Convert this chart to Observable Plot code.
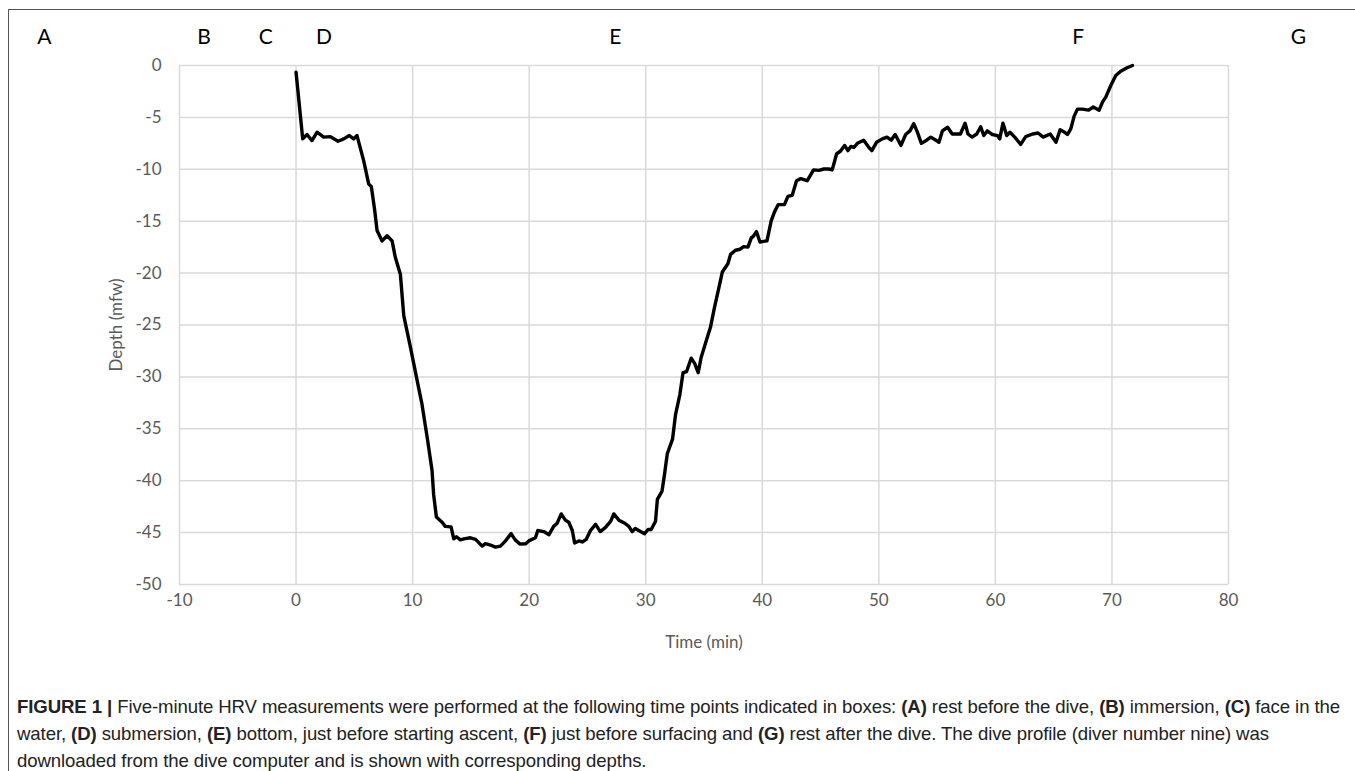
<!DOCTYPE html>
<html>
<head>
<meta charset="utf-8">
<script src="https://cdn.jsdelivr.net/npm/d3@7"></script>
<script src="https://cdn.jsdelivr.net/npm/@observablehq/plot@0.6"></script>
<style>
  html, body { margin: 0; padding: 0; background: #fff; }
  body { width: 1355px; height: 771px; position: relative; overflow: hidden; }
  #frame { position: absolute; left: 8px; top: 9px; width: 1400px; height: 800px;
           border-top: 1.5px solid #555; border-left: 1.5px solid #555; }
  #chart { position: absolute; left: 0; top: 0; }
  #caption { position: absolute; left: 17px; top: 693px; width: 1336px; white-space: nowrap;
             font-family: "Liberation Sans", Arial, sans-serif;
             font-size: 18.6px; line-height: 27px; color: #222; letter-spacing: -0.1px; }
  #caption b { font-weight: bold; }
</style>
</head>
<body>
<div id="frame"></div>
<div id="chart"></div>
<div id="caption"><b>FIGURE 1 |</b> Five-minute HRV measurements were performed at the following time points indicated in boxes: <b>(A)</b> rest before the dive, <b>(B)</b> immersion, <b>(C)</b> face in the<br>water, <b>(D)</b> submersion, <b>(E)</b> bottom, just before starting ascent, <b>(F)</b> just before surfacing and <b>(G)</b> rest after the dive. The dive profile (diver number nine) was<br>downloaded from the dive computer and is shown with corresponding depths.</div>
<script>
// Dive profile: time (min) and depth (mfw)
const time = [
  0, 0.57, 0.94, 1.37, 1.8, 2.37, 2.94, 3.6, 4.09, 4.57, 4.95, 5.23,
  5.8, 6.23, 6.46, 6.75, 6.95, 7.38, 7.81, 8.24, 8.52, 8.95, 9.24, 9.75,
  10.4, 10.8, 11.3, 11.67, 11.8, 12.04, 12.53, 12.8, 13.3, 13.53, 13.76, 14.1,
  14.4, 14.96, 15.4, 15.97, 16.25, 16.68, 17.1, 17.54, 17.97, 18.45, 18.8, 19.2,
  19.7, 19.97, 20.54, 20.74, 21.25, 21.7, 22.1, 22.4, 22.75, 23.1, 23.4, 23.7,
  23.9, 24.26, 24.55, 24.9, 25.26, 25.7, 26.1, 26.55, 27.0, 27.26, 27.7, 28.2,
  28.55, 28.84, 29.1, 29.55, 29.9, 30.2, 30.47, 30.84, 31.0, 31.4, 31.6, 31.85,
  32.3, 32.56, 32.93, 33.2, 33.5, 33.9, 34.2, 34.5, 34.76, 35.2, 35.56, 35.9,
  36.28, 36.57, 37.05, 37.28, 37.7, 38.1, 38.4, 38.77, 39.06, 39.2, 39.5, 39.8,
  40.4, 40.77, 41.05, 41.37, 41.9, 42.2, 42.57, 42.94, 43.3, 43.86, 44.4, 44.86,
  45.29, 45.7, 46.0, 46.38, 46.7, 47.06, 47.35, 47.6, 47.86, 48.16, 48.7, 49.15,
  49.4, 49.8, 50.3, 50.7, 51.06, 51.4, 51.9, 52.3, 52.67, 53.0, 53.3, 53.65,
  54.1, 54.46, 54.9, 55.16, 55.45, 55.9, 56.3, 57.0, 57.4, 57.65, 58.0, 58.4,
  58.74, 59.0, 59.3, 59.74, 60.17, 60.37, 60.65, 60.97, 61.25, 61.66, 62.17, 62.6,
  63.2, 63.66, 64.1, 64.7, 65.2, 65.55, 65.9, 66.18, 66.47, 66.75, 67.04, 67.47,
  68.0, 68.4, 68.9, 69.2, 69.47, 69.9, 70.33, 70.75, 71.3, 71.76
];
const depth = [
  -0.65, -7.07, -6.65, -7.23, -6.43, -6.9, -6.85, -7.3, -7.07, -6.75, -7.07, -6.75,
  -9.16, -11.4, -11.67, -13.98, -15.9, -16.9, -16.4, -16.9, -18.5, -20.1, -24.1, -26.8,
  -30.4, -32.6, -36.2, -39.05, -41.3, -43.5, -44.0, -44.4, -44.45, -45.6, -45.4, -45.7,
  -45.6, -45.5, -45.65, -46.3, -46.07, -46.2, -46.4, -46.3, -45.8, -45.1, -45.7, -46.1,
  -46.07, -45.8, -45.5, -44.8, -44.9, -45.2, -44.4, -44.1, -43.2, -43.8, -44.0, -44.8,
  -46.0, -45.8, -45.9, -45.65, -44.8, -44.2, -44.9, -44.5, -43.9, -43.2, -43.8, -44.1,
  -44.4, -44.9, -44.6, -44.9, -45.1, -44.7, -44.7, -43.9, -41.8, -41.0, -39.5, -37.4,
  -36.0, -33.6, -31.7, -29.6, -29.5, -28.2, -28.7, -29.6, -28.1, -26.5, -25.2, -23.3,
  -21.4, -19.9, -19.1, -18.2, -17.8, -17.7, -17.45, -17.5, -16.6, -16.5, -16.0, -17.0,
  -16.9, -14.95, -14.1, -13.4, -13.4, -12.6, -12.5, -11.1, -10.9, -11.1, -10.06, -10.1,
  -9.97, -9.97, -10.06, -8.5, -8.26, -7.7, -8.2, -7.8, -7.9, -7.5, -7.2, -7.9,
  -8.2, -7.4, -7.07, -6.9, -7.2, -6.65, -7.7, -6.65, -6.3, -5.6, -6.4, -7.5,
  -7.2, -6.9, -7.2, -7.4, -6.3, -5.95, -6.6, -6.6, -5.56, -6.6, -6.9, -6.6,
  -5.9, -6.75, -6.3, -6.65, -6.75, -7.07, -5.56, -6.75, -6.43, -6.9, -7.6, -6.85,
  -6.6, -6.5, -6.9, -6.6, -7.4, -6.2, -6.4, -6.65, -6.1, -4.9, -4.2, -4.2,
  -4.3, -4.0, -4.3, -3.5, -3.05, -1.93, -0.96, -0.55, -0.22, 0
];
// HRV measurement time points (letters above the chart), in minutes
const markLetters = ["A", "B", "C", "D", "E", "F", "G"];
const markTimes = [-21.6, -7.9, -2.6, 2.4, 27.4, 67.1, 86.0];
// Axis ticks
const xTicks = [-10, 0, 10, 20, 30, 40, 50, 60, 70, 80];
const yTicks = [0, -5, -10, -15, -20, -25, -30, -35, -40, -45, -50];

const profile = time.map((t, i) => ({t, d: depth[i]}));
const letters = markLetters.map((l, i) => ({l, t: markTimes[i]}));
const fmt = d => String(d);

const chart = Plot.plot({
  width: 1355,
  height: 660,
  marginLeft: 179,
  marginRight: 127,
  marginTop: 65,
  marginBottom: 76,
  style: {fontFamily: "Lato, 'Open Sans', sans-serif", fontSize: "17px", color: "#595959", background: "transparent"},
  x: {domain: [-10, 80]},
  y: {domain: [-50, 0]},
  marks: [
    Plot.gridX(xTicks, {stroke: "#d9d9d9", strokeOpacity: 1, strokeWidth: 1.5}),
    Plot.gridY(yTicks, {stroke: "#d9d9d9", strokeOpacity: 1, strokeWidth: 1.5}),
    Plot.axisX(xTicks, {tickSize: 0, tickPadding: 9, fontSize: 17, fill: "#595959", tickFormat: fmt,
      label: "Time (min)", labelAnchor: "center", labelOffset: 63, labelArrow: false}),
    Plot.axisY(yTicks, {tickSize: 0, tickPadding: 18, fontSize: 17, fill: "#595959", tickFormat: fmt,
      label: "Depth (mfw)", labelAnchor: "center", labelOffset: 70, labelArrow: false}),
    Plot.line(profile, {x: "t", y: "d", stroke: "#000", strokeWidth: 3.4, strokeLinejoin: "round", strokeLinecap: "round"}),
    Plot.text(letters, {x: "t", text: "l", frameAnchor: "top", dy: -36, fontSize: 21, fill: "#000"})
  ]
});
document.getElementById("chart").appendChild(chart);
</script>
</body>
</html>
